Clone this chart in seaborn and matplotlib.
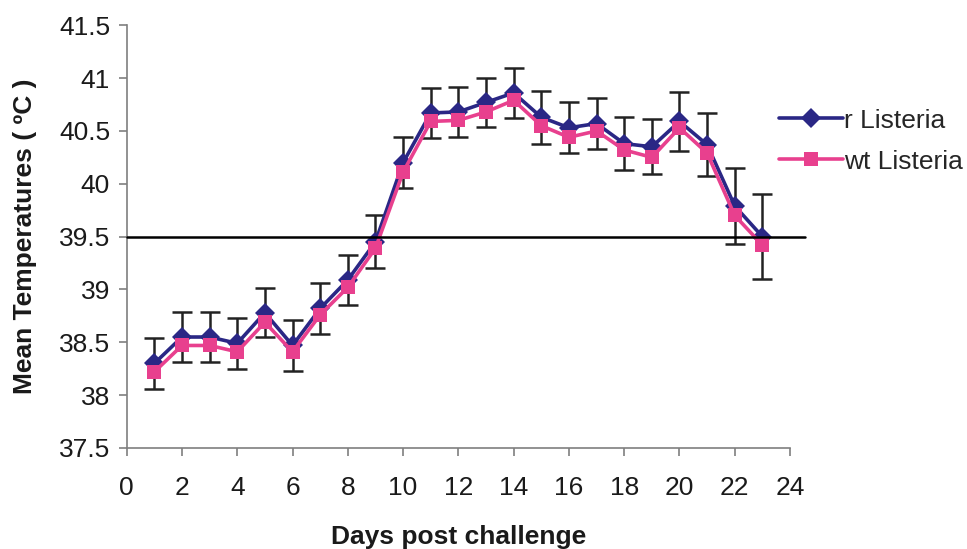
import numpy as np
import pandas as pd
import matplotlib
matplotlib.use("Agg")
import matplotlib.pyplot as plt
import seaborn as sns

days = list(range(1, 24))
r_listeria = [38.30, 38.55, 38.55, 38.49, 38.78, 38.47, 38.82, 39.09, 39.45, 40.20,
              40.67, 40.68, 40.77, 40.86, 40.63, 40.53, 40.57, 40.38, 40.35, 40.59,
              40.37, 39.79, 39.50]
wt_listeria = [38.22, 38.47, 38.47, 38.41, 38.69, 38.41, 38.76, 39.02, 39.39, 40.11,
               40.59, 40.60, 40.68, 40.79, 40.55, 40.44, 40.50, 40.32, 40.25, 40.53,
               40.29, 39.70, 39.42]
err = [0.24, 0.24, 0.24, 0.24, 0.23, 0.24, 0.24, 0.24, 0.25, 0.24,
       0.24, 0.24, 0.23, 0.24, 0.25, 0.24, 0.24, 0.25, 0.26, 0.28,
       0.30, 0.36, 0.40]
threshold = 39.5
series_names = ["r Listeria", "wt Listeria"]
x_ticks = list(range(0, 25, 2))
y_ticks = [37.5, 38, 38.5, 39, 39.5, 40, 40.5, 41, 41.5]
y_tick_labels = ["37.5", "38", "38.5", "39", "39.5", "40", "40.5", "41", "41.5"]

df = pd.DataFrame({
    "day": days * 2,
    "temp": r_listeria + wt_listeria,
    "series": [series_names[0]] * len(days) + [series_names[1]] * len(days),
})

sns.set_theme(style="white")
plt.rcParams["font.family"] = ["Liberation Sans", "DejaVu Sans"]

fig = plt.figure(figsize=(9.67, 5.49), dpi=100)
ax = fig.add_axes([0.131, 0.184, 0.686, 0.770])

navy = "#2a2785"
pink = "#e8408e"

ax.errorbar(days, r_listeria, yerr=err, fmt="none", ecolor="#222222",
            elinewidth=1.8, capsize=7.5, capthick=1.8, zorder=2)

sns.lineplot(data=df, x="day", y="temp", hue="series", style="series",
             hue_order=series_names, style_order=series_names,
             palette={series_names[0]: navy, series_names[1]: pink},
             markers={series_names[0]: "D", series_names[1]: "s"},
             dashes=False, linewidth=2.6, markersize=10, markeredgewidth=0,
             ax=ax, zorder=3)

ax.plot([0, 24.55], [threshold, threshold], color="black", lw=1.8,
        clip_on=False, zorder=4)

ax.set_xlim(0, 24)
ax.set_ylim(37.5, 41.5)
ax.set_xticks(x_ticks)
ax.set_yticks(y_ticks)
ax.set_yticklabels(y_tick_labels)
for s in ["top", "right"]:
    ax.spines[s].set_visible(False)
for s in ["left", "bottom"]:
    ax.spines[s].set_color("#7f7f7f")
    ax.spines[s].set_linewidth(1.2)
ax.tick_params(axis="both", which="major", direction="out", length=6,
               width=1.2, color="#7f7f7f", labelsize=19, labelcolor="#1a1a1a",
               left=True, bottom=True)
ax.tick_params(axis="x", pad=14)
ax.tick_params(axis="y", pad=6)

ax.set_xlabel("Days post challenge", fontsize=19, fontweight="bold",
              color="#1a1a1a", labelpad=18)
ax.set_ylabel("Mean Temperatures ( ºC )", fontsize=19, fontweight="bold",
              color="#1a1a1a", labelpad=10)
ax.yaxis.set_label_coords(-0.135, 0.5)

handles, labels = ax.get_legend_handles_labels()
ax.legend(handles=handles, labels=labels, loc="center left",
          bbox_to_anchor=(0.795, 0.743), bbox_transform=fig.transFigure,
          frameon=False, fontsize=19, handlelength=2.4, handletextpad=0.05,
          labelspacing=0.65, borderaxespad=0)

fig.savefig("out.png", dpi=100)
